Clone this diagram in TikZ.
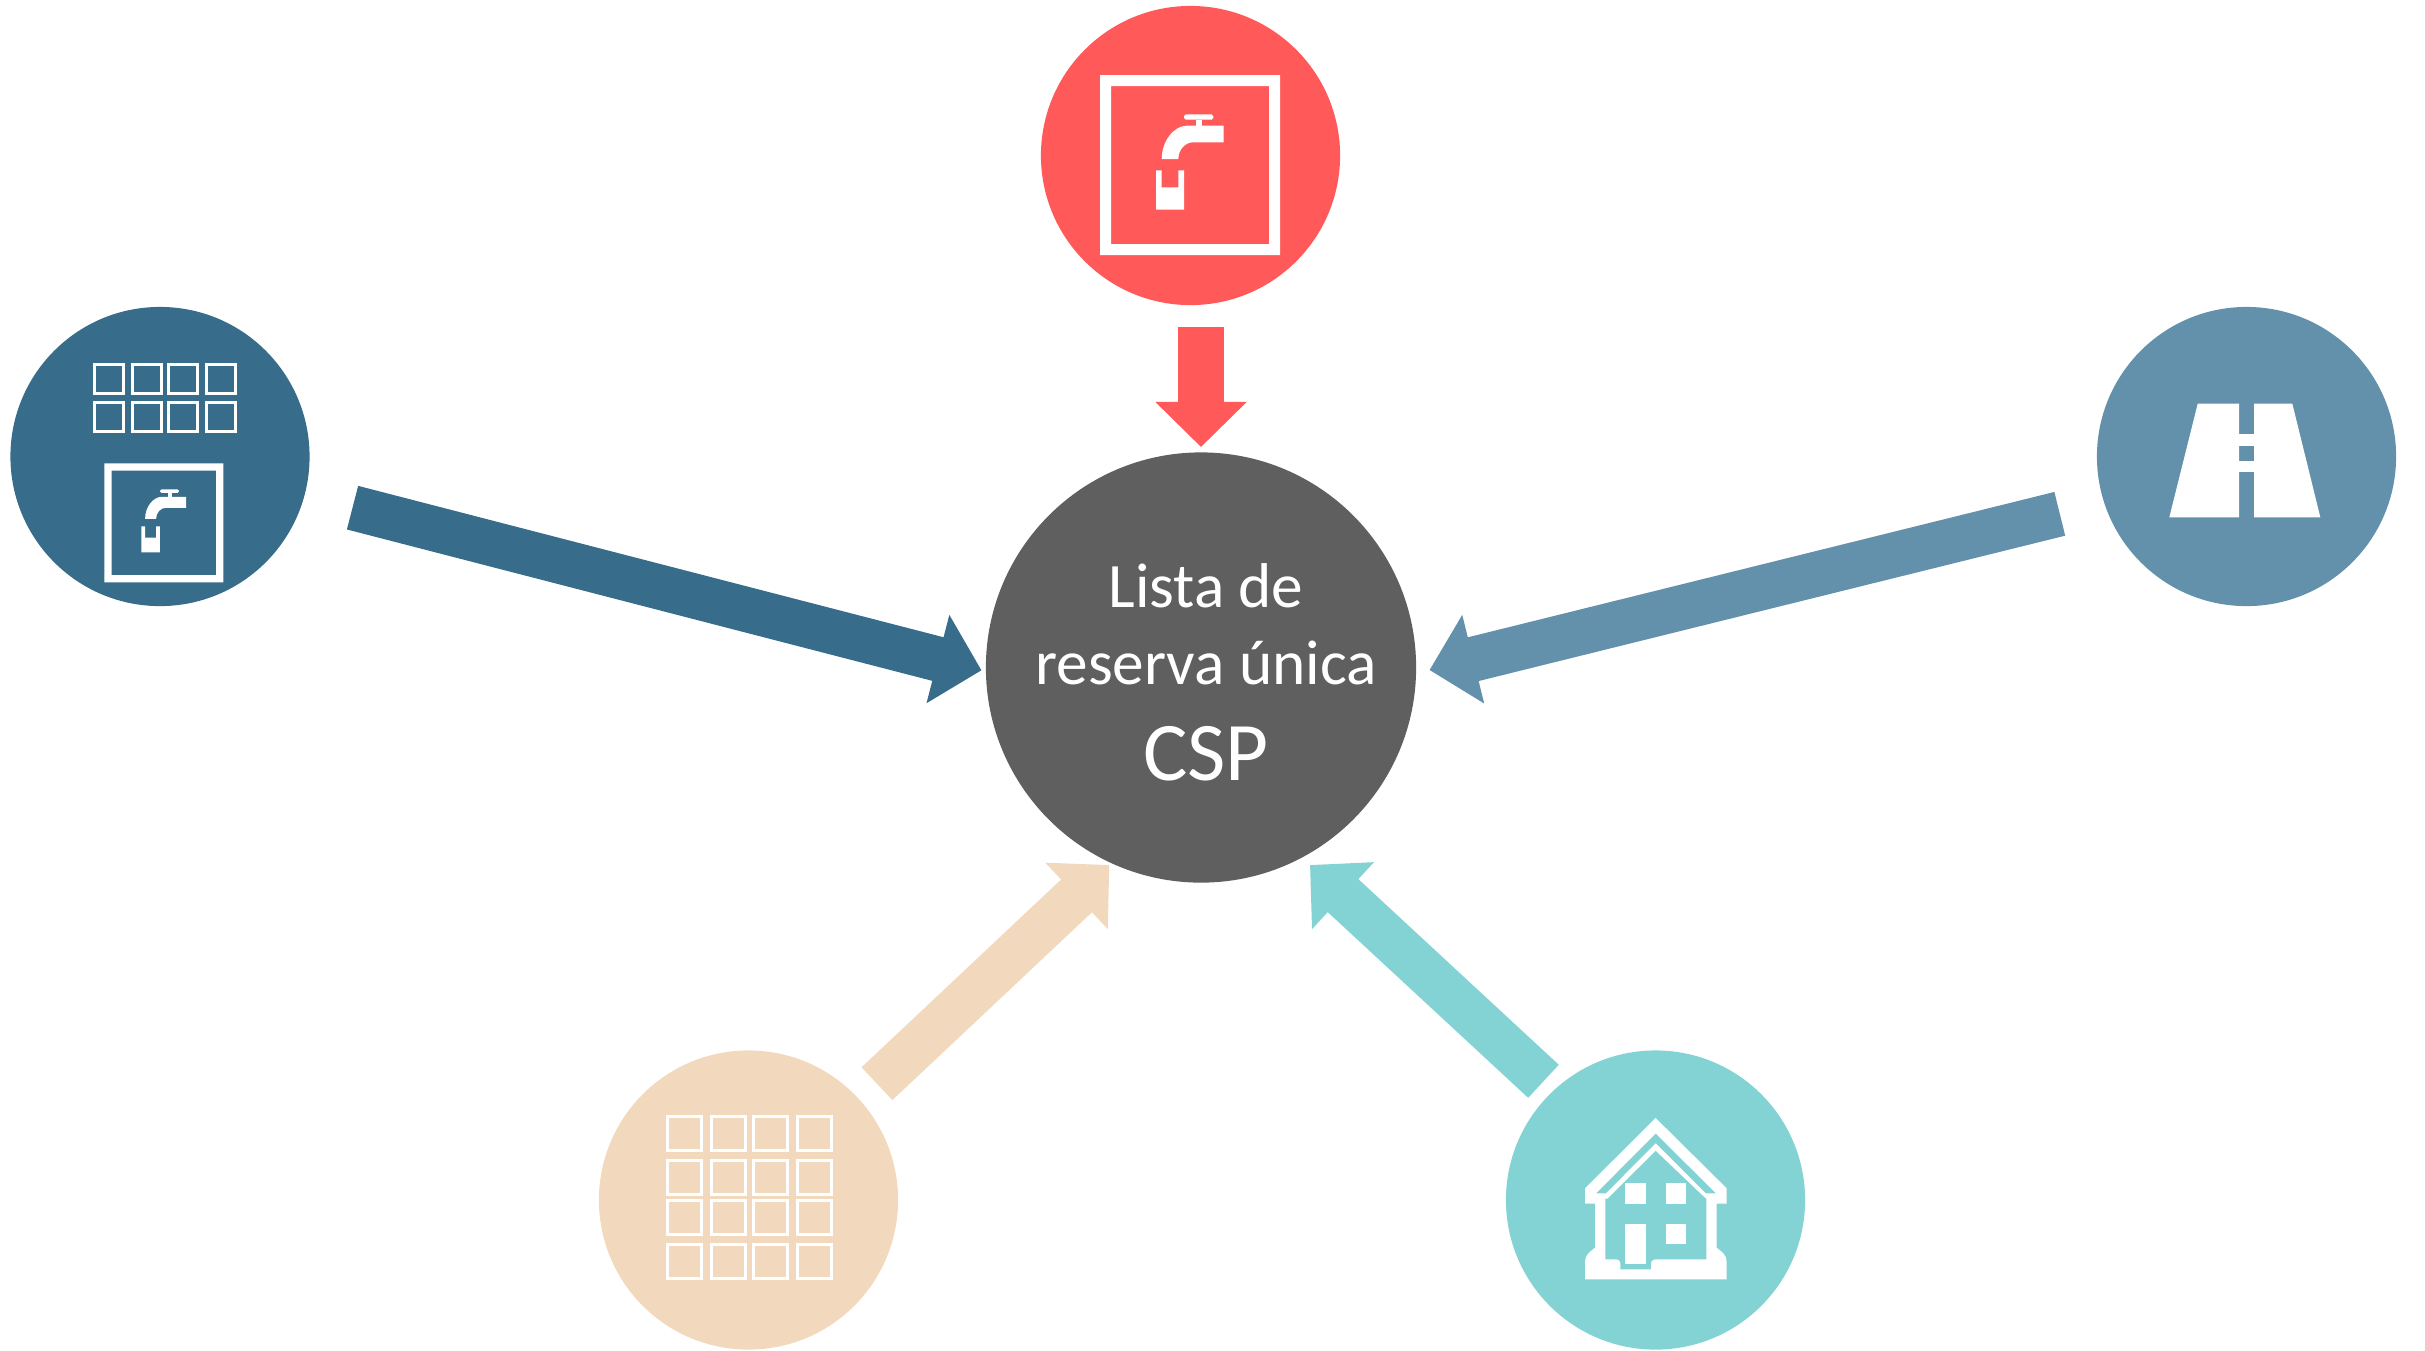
\documentclass[tikz,border=0pt]{standalone}
\usepackage{fontspec}
\setmainfont{Carlito}
\usetikzlibrary{arrows.meta}
\definecolor{tapred}{RGB}{255,89,89}
\definecolor{tapblue}{RGB}{56,108,139}
\definecolor{roadblue}{RGB}{99,144,170}
\definecolor{gridtan}{RGB}{242,216,189}
\definecolor{houseteal}{RGB}{132,211,212}
\definecolor{hubgrey}{RGB}{95,95,95}
\tikzset{
    source/.style={circle,fill=#1,minimum size=2.99cm,inner sep=0pt},
    feed/.style={draw=#1,line width=0.45cm,-{Triangle[length=0.45cm,width=0.885cm,fill=#1]}},
    gridcell/.style={draw=white,line width=#1}
}
\newcommand{\tapicon}[3]{
    \begin{scope}[shift={(#1,#2)},scale=#3]
        \fill[white,even odd rule] (-90,-90) rectangle (90,90) (-79,-79) rectangle (79,79);
        \fill[white,rounded corners=0.5pt] (-6,-50.7) rectangle (23.3,-45.3);
        \fill[white] (5.7,-45.5) rectangle (11.7,-39);
        \fill[white] (33.7,-39.3) -- (33.7,-22.7) -- (3,-22.7) .. controls (-5,-22.7) and (-11.7,-15) .. (-11.7,-6)
            -- (-28.3,-6) .. controls (-28.3,-24) and (-16,-39.3) .. (-3.3,-39.3) -- cycle;
        \fill[white] (-34,5.3) -- (-28.3,5.3) -- (-28.3,22.3) -- (-11.7,22.3) -- (-11.7,5.3) -- (-6,5.3) -- (-6,44.7) -- (-34,44.7) -- cycle;
    \end{scope}
}
\begin{document}
\begin{tikzpicture}[x=0.01cm,y=-0.01cm]
    \useasboundingbox (0,0) rectangle (2425,1350);
    \node[source=tapred] (rsvtap) at (1190.5,155.5) {};
    \node[source=tapblue] (gridtap) at (160,456.5) {};
    \node[source=roadblue] (road) at (2246.5,456.5) {};
    \node[source=gridtan] (grid) at (748.5,1200) {};
    \node[source=houseteal] (house) at (1655.5,1200) {};
    \node[circle,fill=hubgrey,minimum size=4.3cm,inner sep=0pt] (csp) at (1201,667.5) {};
    \node[text=white,align=center,font=\fontsize{18}{21.8}\selectfont] (csptext) at (1206,672)
        {Lista de\\reserva única\\[5.5pt]{\fontsize{23.7}{27}\selectfont CSP}};

    \coordinate (tiptap) at (1200,447);
    \coordinate (tipgridtap) at (981.5,670.3);
    \coordinate (tiproad) at (1429.5,670);
    \coordinate (tipgrid) at (1109.3,865);
    \coordinate (tiphouse) at (1310,865);
    \draw[feed=tapred,shorten <=0.213cm] (rsvtap.-86.36) -- (rsvtap.-86.36 |- tiptap);
    \draw[feed=tapblue,shorten <=0.489cm] (gridtap.-15.5) -- (tipgridtap);
    \draw[feed=roadblue,shorten <=0.451cm] (road.198.2) -- (tiproad);
    \draw[feed=gridtan,shorten <=0.23cm] (grid.42.4) -- (tipgrid);
    \draw[feed=houseteal,shorten <=0.13cm] (house.133) -- (tiphouse);

    % taps
    \tapicon{1190}{165}{1}
    \tapicon{163.8}{522.8}{0.661}

    % grids
    \foreach \cx in {94.5,132.5,168.5,206.5}
        \foreach \cy in {364.5,402.2}
            \draw[gridcell=0.03cm] (\cx,\cy) rectangle ++(29.3,29.3);
    \foreach \cx in {667.7,711.7,753.7,797.7}
        \foreach \cy in {1116.7,1160.7,1200.7,1244.7}
            \draw[gridcell=0.033cm] (\cx,\cy) rectangle ++(34,34);

    % road
    \fill[white] (2197.7,403.7) -- (2239,403.7) -- (2239,517.3) -- (2169.3,517.3) -- cycle;
    \fill[white] (2254,403.7) -- (2292.3,403.7) -- (2320.3,517.3) -- (2254,517.3) -- cycle;
    \fill[white] (2238,434) rectangle (2255,446);
    \fill[white] (2238,461.3) rectangle (2255,471.7);

    % house
    \begin{scope}[shift={(1500,1040)},scale=0.3333]
        \fill[white,even odd rule] (467,234) -- (680,445) -- (680,491) -- (650,491) -- (650,623)
            .. controls (665,635) and (680,645) .. (680,665) -- (680,718) -- (255,718) -- (255,665)
            .. controls (255,645) and (270,635) .. (285,623) -- (285,491) -- (255,491) -- (255,445) -- cycle
            (467,280) -- (648,460) -- (617,460) -- (467,310) -- (318,460) -- (288,460) -- cycle
            (467,332) -- (612,470) -- (619,476) -- (619,658) -- (470,658) .. controls (460,658) and (453,662) .. (453,672)
            -- (453,688) -- (361,688) -- (361,672) .. controls (361,662) and (355,658) .. (345,658)
            -- (316,658) -- (316,476) -- (322,476) -- cycle;
        \fill[white] (376,430) rectangle (437,491);
        \fill[white] (498,430) rectangle (558,491);
        \fill[white] (376,552) rectangle (437,673);
        \fill[white] (498,552) rectangle (558,612);
    \end{scope}
\end{tikzpicture}
\end{document}
